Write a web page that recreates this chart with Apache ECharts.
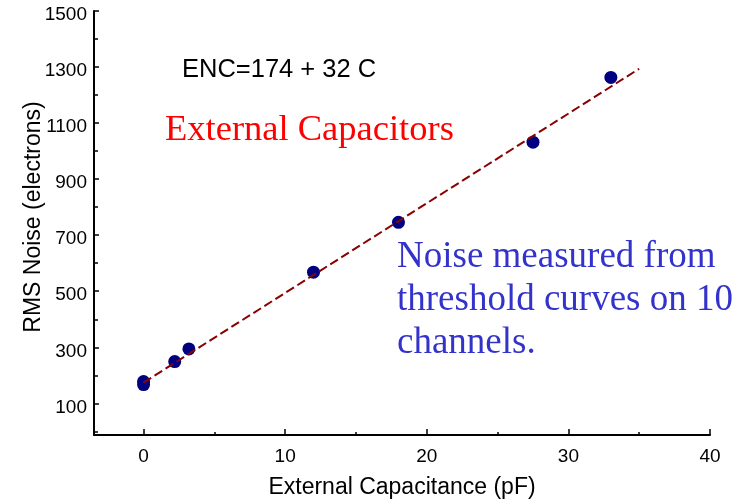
<!DOCTYPE html>
<html>
<head>
<meta charset="utf-8">
<title>RMS Noise vs External Capacitance</title>
<script src="https://cdn.jsdelivr.net/npm/echarts@6/dist/echarts.min.js"></script>
<style>
  html, body { margin: 0; padding: 0; background: #ffffff; }
  #chart { width: 741px; height: 501px; }
</style>
</head>
<body>
<div id="chart"></div>
<script>
// Measured noise per capacitor value (pF -> electrons)
const capacitance = [0, 0, 2.2, 3.2, 12, 18, 27.5, 33];
const noise = [167, 178, 249, 294, 568, 746, 1032, 1263];

// Linear fit ENC = 174 + 32 C, drawn over 0..35 pF
const fitIntercept = 174;
const fitSlope = 32;
const fitRange = [0, 35];

// Axis ticks and labels
const xMajorTicks = [0, 10, 20, 30, 40];
const xMinorTicks = [5, 15, 25, 35];
const yLabelTicks = [100, 300, 500, 700, 900, 1100, 1300, 1500];
const yMinorTicks = [0, 200, 400, 600, 800, 1000, 1200, 1400];

const xMin = -3.5, xMax = 40;
const yMin = -13, yMax = 1500;

const pointData = capacitance.map((c, i) => [c, noise[i]]);
const fitData = fitRange.map(c => [c, fitIntercept + fitSlope * c]);

const sans = 'Liberation Sans, Arial, Helvetica, sans-serif';
const serif = 'Liberation Serif, Times New Roman, serif';

const chart = echarts.init(document.getElementById('chart'), null, { renderer: 'canvas' });

const baseX = {
  type: 'value', min: xMin, max: xMax, gridIndex: 0, position: 'bottom',
  splitLine: { show: false }
};
const baseY = {
  type: 'value', min: yMin, max: yMax, gridIndex: 0, position: 'left',
  splitLine: { show: false }
};

chart.setOption({
  animation: false,
  backgroundColor: '#ffffff',
  grid: { left: 94, right: 31, top: 11, bottom: 66, outerBoundsMode: 'none' },
  xAxis: [
    Object.assign({}, baseX, {
      name: 'External Capacitance (pF)',
      nameLocation: 'middle',
      nameGap: 41,
      nameMoveOverlap: false,
      nameTextStyle: { fontFamily: sans, fontSize: 23, color: '#000' },
      axisLine: { show: true, onZero: false, lineStyle: { color: '#000', width: 2 } },
      axisTick: { show: true, inside: true, length: 6, customValues: xMajorTicks, lineStyle: { color: '#000', width: 1.5 } },
      axisLabel: { show: true, customValues: xMajorTicks, margin: 12, fontFamily: sans, fontSize: 19, color: '#000' }
    }),
    Object.assign({}, baseX, {
      axisLine: { show: false, onZero: false },
      axisTick: { show: true, inside: true, length: 3, customValues: xMinorTicks, lineStyle: { color: '#000', width: 1.5 } },
      axisLabel: { show: false }
    })
  ],
  yAxis: [
    Object.assign({}, baseY, {
      name: 'RMS Noise (electrons)',
      nameLocation: 'middle',
      nameGap: 49,
      nameMoveOverlap: false,
      nameTextStyle: { fontFamily: sans, fontSize: 23, color: '#000', padding: [0, 0, 0, 12] },
      axisLine: { show: true, onZero: false, lineStyle: { color: '#000', width: 2 } },
      axisTick: { show: true, inside: true, length: 5, customValues: yLabelTicks, lineStyle: { color: '#000', width: 1.5 } },
      axisLabel: {
        show: true, customValues: yLabelTicks, margin: 7, color: '#000',
        formatter: v => '{t|' + v + '}',
        rich: { t: { fontFamily: sans, fontSize: 19, color: '#000', padding: [8, 0, 0, 0] } }
      }
    }),
    Object.assign({}, baseY, {
      axisLine: { show: false, onZero: false },
      axisTick: { show: true, inside: true, length: 4, customValues: yMinorTicks, lineStyle: { color: '#000', width: 1.5 } },
      axisLabel: { show: false }
    })
  ],
  series: [
    {
      name: 'Fit',
      type: 'line',
      xAxisIndex: 0, yAxisIndex: 0,
      data: fitData,
      symbol: 'none',
      lineStyle: { color: '#8b0000', width: 2, type: [9, 4] },
      z: 3
    },
    {
      name: 'Measured',
      type: 'scatter',
      xAxisIndex: 0, yAxisIndex: 0,
      data: pointData,
      symbol: 'circle',
      symbolSize: 13,
      itemStyle: { color: '#000080', opacity: 1 },
      z: 2
    }
  ],
  graphic: [
    {
      type: 'text', x: 182, y: 57,
      style: { text: 'ENC=174 + 32 C', font: '25.5px ' + sans, fill: '#000', textVerticalAlign: 'top' }
    },
    {
      type: 'text', x: 165, y: 112,
      style: { text: 'External Capacitors', font: '36.5px ' + serif, fill: '#ff0000', textVerticalAlign: 'top' }
    },
    {
      type: 'text', x: 397, y: 236,
      style: {
        text: 'Noise measured from\nthreshold curves on 10\nchannels.',
        font: '37px ' + serif, fill: '#3333cc', lineHeight: 43, textVerticalAlign: 'top'
      }
    }
  ]
});
</script>
</body>
</html>
